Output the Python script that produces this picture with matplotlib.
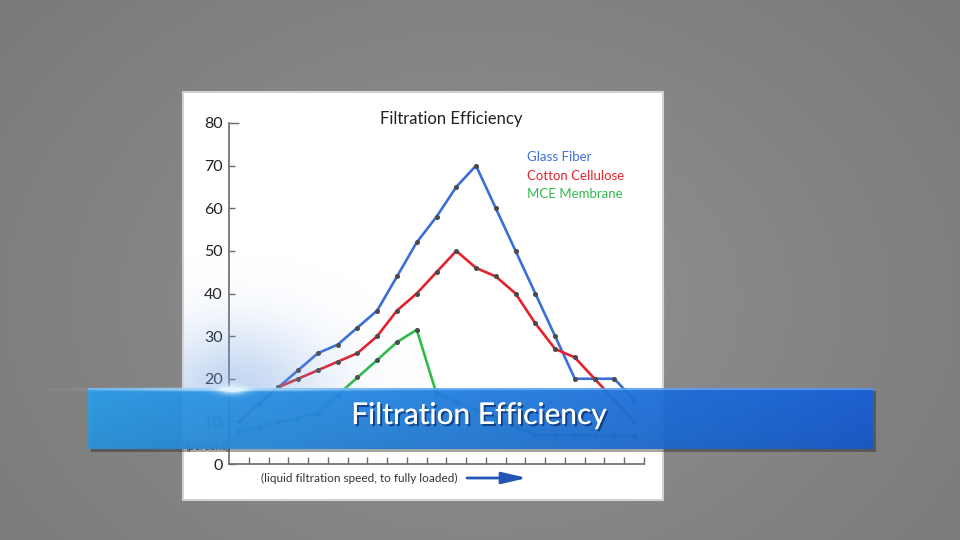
import numpy as np
import matplotlib
matplotlib.use("Agg")
import matplotlib.pyplot as plt
from matplotlib.patches import Rectangle
from matplotlib.lines import Line2D
import matplotlib.patheffects as pe

# ---------------- data ----------------
stages = np.arange(1, 22)  # loading stages (liquid filtration speed -> fully loaded)
glass_fiber = [10, 14, 18, 22, 26, 28, 32, 36, 44, 52, 58, 65, 70, 60, 50, 40, 30, 20, 20, 20, 15]
cotton_cellulose = [10, 14, 18, 20, 22, 24, 26, 30, 36, 40, 45, 50, 46, 44, 40, 33, 27, 25, 20, 15, 10]
mce_membrane = [7.6, 8.7, 9.8, 10.8, 11.9, 16.2, 20.3, 24.4, 28.6, 31.5, 16.5, 14.6, 12.6, 10.7, 8.7,
                6.8, 6.8, 6.7, 6.7, 6.6, 6.6]
series_names = ["Glass Fiber", "Cotton Cellulose", "MCE Membrane"]
series_colors = ["#3b6fd8", "#e3232b", "#2fbb4a"]
y_ticks = [0, 10, 20, 30, 40, 50, 60, 70, 80]
chart_title = "Filtration Efficiency"
banner_title = "Filtration Efficiency"
x_caption = "(liquid filtration speed, to fully loaded)"
y_caption = "(percent)"

W, H = 960, 540
plt.rcParams['font.family'] = ['Lato', 'DejaVu Sans']
fig = plt.figure(figsize=(9.6, 5.4), dpi=100)


def fx(px):
    return px / W


def fy(py):
    return 1 - py / H


# ---------------- background ----------------
bg = fig.add_axes([0, 0, 1, 1], zorder=0)
bg.set_xlim(0, W)
bg.set_ylim(H, 0)
bg.axis('off')
yy, xx = np.mgrid[0:H, 0:W]
r = np.sqrt(((xx - 480) / 560.0) ** 2 + ((yy - 300) / 420.0) ** 2)
g = np.clip(0.575 - 0.09 * r, 0, 1)
bg.imshow(np.dstack([g, g, g]), extent=(0, W, H, 0), aspect='auto', zorder=0)
bg.add_patch(Rectangle((183, 92), 480, 408, facecolor='white', edgecolor='#d2d2d2', lw=1.5, zorder=2))

# ---------------- chart ----------------
x0, x1, y0, y1 = 229, 644, 464, 123
ax = fig.add_axes([fx(x0), fy(y0), (x1 - x0) / W, (y0 - y1) / H], zorder=1)
ax.set_facecolor('none')
ax.set_xlim(0.5, 21.5)
ax.set_ylim(0, 80)

for vals, col in zip([glass_fiber, cotton_cellulose, mce_membrane], series_colors):
    ax.plot(stages, vals, color=col, lw=1.9, marker='o', ms=2.6,
            mfc='#4a4a4a', mec='#4a4a4a', solid_joinstyle='round')

ax.set_xticks(stages + 0.5)
ax.set_yticks(y_ticks)
for s in ['top', 'right']:
    ax.spines[s].set_visible(False)
for s in ['left', 'bottom']:
    ax.spines[s].set_color('#6a6a6a')
    ax.spines[s].set_linewidth(1.2)
ax.tick_params(axis='x', direction='in', length=5, width=1, color='#6a6a6a', labelbottom=False)
ax.tick_params(axis='y', direction='in', length=4, width=1, color='#6a6a6a',
               labelsize=11.5, pad=4.5, labelcolor='#222222')
ax.yaxis.get_major_ticks()[-1].tick1line.set_markersize(7)

ax.text((451 - x0) / (x1 - x0), (y0 - 119) / (y0 - y1), chart_title, transform=ax.transAxes,
        ha='center', va='center', fontsize=12, color='#222222')

handles = [Line2D([], [], color=c, lw=0) for c in series_colors]
ax.legend(handles, series_names, loc='upper left', bbox_to_anchor=(fx(527), fy(151)),
          bbox_transform=fig.transFigure, frameon=False, handlelength=0, handletextpad=0,
          borderpad=0, borderaxespad=0, labelspacing=0.5, fontsize=9.5, labelcolor=series_colors)

ax.set_xlabel(x_caption, fontsize=8.5, color='#333333')
ax.xaxis.set_label_coords((359.5 - x0) / (x1 - x0), (y0 - 478) / (y0 - y1))
ax.xaxis.label.set_va('center')
ax.set_ylabel(y_caption, rotation=0, fontsize=8, color='#555555', ha='center', va='center')
ax.yaxis.set_label_coords((207 - x0) / (x1 - x0), (y0 - 446) / (y0 - y1))

ax.annotate('', xy=(527, H - 478), xycoords='figure pixels', xytext=(467, H - 478),
            textcoords='figure pixels',
            arrowprops=dict(arrowstyle='-|>,head_length=1.5,head_width=0.35', color='#2457b5',
                            lw=2, shrinkA=0, shrinkB=0))

# ---------------- overlay (video banner) ----------------
ov = fig.add_axes([0, 0, 1, 1], zorder=3)
ov.set_xlim(0, W)
ov.set_ylim(H, 0)
ov.axis('off')
ov.patch.set_alpha(0)

# blue haze from the flare on the panel (above the banner only)
haze_a = 0.42 * np.exp(-(((xx - 235) / 90.0) ** 2 + ((yy - 392) / 65.0) ** 2))
haze_a *= ((xx >= 184) & (yy <= 390))
haze = np.zeros((H, W, 4))
haze[..., 0], haze[..., 1], haze[..., 2] = 0.45, 0.62, 0.88
haze[..., 3] = haze_a
ov.imshow(haze, extent=(0, W, H, 0), aspect='auto', zorder=1)

bx0, bx1, by0, by1 = 88, 873, 388, 449
# shadow
ov.add_patch(Rectangle((bx0 + 3, by0 + 3), bx1 - bx0, by1 - by0, facecolor='#202020',
                       alpha=0.4, lw=0, zorder=2))
bw, bh = bx1 - bx0, by1 - by0
t = np.linspace(0, 1, bw)[None, :]
v = np.linspace(0, 1, bh)[:, None]
left = np.array([0.18, 0.63, 0.93])
right = np.array([0.10, 0.38, 0.86])
ban = np.zeros((bh, bw, 4))
for k in range(3):
    ban[..., k] = (left[k] * (1 - t) + right[k] * t) * (1.0 - 0.08 * v)
ban[:2, :, :3] = ban[:2, :, :3] * 0.5 + 0.5 * np.array([0.6, 0.8, 1.0])
ban[..., :3] = np.clip(ban[..., :3], 0, 1)
ban[..., 3] = 0.93
ov.imshow(ban, extent=(bx0, bx1, by1, by0), aspect='auto', zorder=3)

ov.text(479, 415, banner_title, ha='center', va='center', fontsize=21.5, color='white', zorder=5,
        path_effects=[pe.withSimplePatchShadow(offset=(1.5, -1.5), shadow_rgbFace='#0b2a66', alpha=0.7),
                      pe.Normal()])

# lens flare
dx, dy = xx - 232, yy - 389
fl_a = 0.95 * np.exp(-((dx / 14.0) ** 2 + (dy / 5.0) ** 2)) + 0.6 * np.exp(-((dx / 110.0) ** 2 + (dy / 1.8) ** 2))
fl = np.zeros((H, W, 4))
fl[..., 0], fl[..., 1], fl[..., 2] = 0.88, 0.96, 1.0
fl[..., 3] = np.clip(fl_a, 0, 1)
ov.imshow(fl, extent=(0, W, H, 0), aspect='auto', zorder=6)

fig.savefig('out.png', dpi=100)
